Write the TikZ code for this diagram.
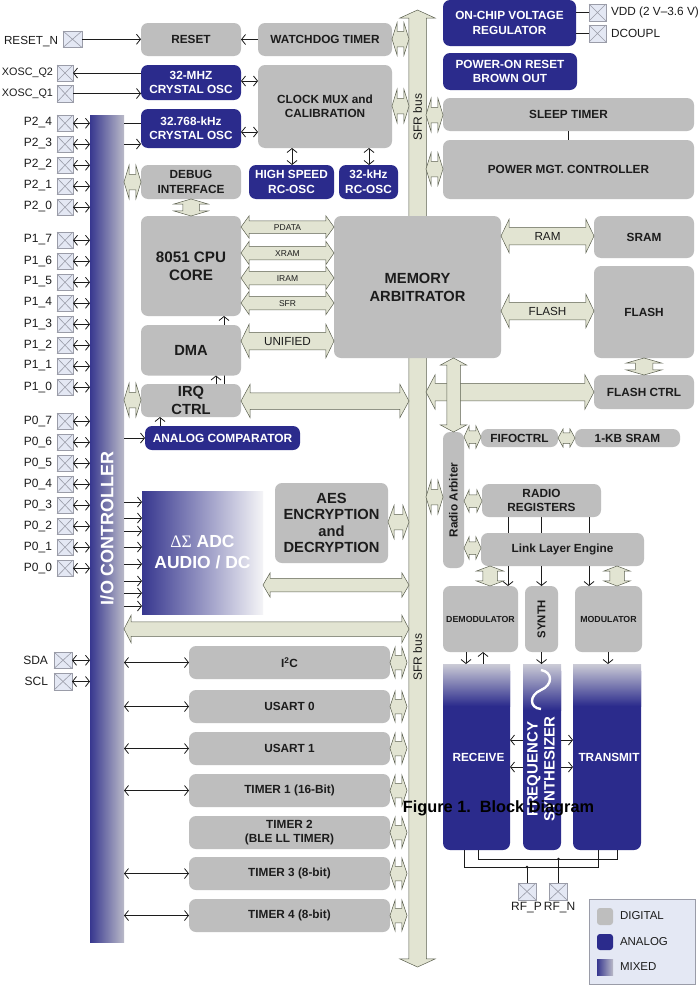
\documentclass[tikz,border=0pt]{standalone}
\usepackage{fontspec}
\setmainfont{Liberation Sans}
\newfontfamily\greekserif{Liberation Serif}
\usetikzlibrary{arrows.meta,shapes.arrows,calc}
\definecolor{digi}{HTML}{BEBEBE}
\definecolor{navy}{HTML}{2B2B8C}
\definecolor{busfill}{HTML}{E2E4D2}
\definecolor{busline}{HTML}{5C6050}
\definecolor{padfill}{HTML}{E4E8F4}
\definecolor{padline}{HTML}{9A9CA8}
\definecolor{ink}{HTML}{1C1C1C}
\definecolor{mixl}{HTML}{37378F}
\definecolor{mixr}{HTML}{BABAC8}
\tikzset{
  x=1pt,y=-1pt,
  >={Straight Barb[length=4pt,width=10pt]},
  base/.style={inner sep=0pt,outer sep=0pt,align=center,text=ink},
  fblk/.style={font=\fontsize{11.8}{14.5}\selectfont\bfseries},
  fbig/.style={font=\fontsize{14.7}{18}\selectfont\bfseries},
  dig/.style={base,fill=digi,rounded corners=7pt,fblk},
  ana/.style={base,fill=navy,rounded corners=7pt,fblk,text=white},
  wire/.style={draw=ink,line width=.8pt},
  bus/.style={inner sep=0pt,outer sep=0pt,text=ink,fill=busfill,draw=busline,line width=.5pt,
    double arrow head indent=0pt,font=\fontsize{11.7}{13}\selectfont},
  buss/.style={font=\fontsize{8.5}{10}\selectfont},
  padbox/.style={base,fill=padfill,draw=padline,line width=.7pt},
  lab/.style={base,font=\fontsize{12}{14}\selectfont},
}
\newcommand\blk[7][]{%
  \node[#2,#1,minimum width={(#5-#3)*1pt},minimum height={(#6-#4)*1pt}] (#7) at ({(#3+#5)/2},{(#4+#6)/2})}
\newcommand\hbus[8][]{% opts, name,x0,x1,yc,H,B,L
  \pgfmathsetmacro\bTip{2*atan((#6/2)/#8)}%
  \pgfmathsetmacro\bExt{(#6-#7)/2}%
  \pgfmathsetmacro\bLong{#4-#3}%
  \pgfmathsetmacro\bUp{#7/2+4.2}%
  \pgfmathsetmacro\bDn{#7/2-4.2}%
  \node[bus,double arrow,minimum height=\bLong pt,minimum width=#6pt,text height=\bUp pt,text depth=\bDn pt,
    double arrow head extend=\bExt pt,double arrow tip angle=\bTip,#1] (#2) at ({(#3+#4)/2},#5)}
\newcommand\vbus[8][]{% opts, name,y0,y1,xc,H,B,L
  \pgfmathsetmacro\bTip{2*atan((#6/2)/#8)}%
  \pgfmathsetmacro\bExt{(#6-#7)/2}%
  \pgfmathsetmacro\bLong{#4-#3}%
  \pgfmathsetmacro\bHalf{#7/2}%
  \node[bus,double arrow,shape border rotate=90,inner xsep=\bHalf pt,minimum height=\bLong pt,minimum width=#6pt,
    double arrow head extend=\bExt pt,double arrow tip angle=\bTip,#1] (#2) at (#5,{(#3+#4)/2})}
\newcommand\padx[5]{% name x0 y0 x1 y1
  \node[padbox,minimum width={(#4-#2)*1pt},minimum height={(#5-#3)*1pt}] (#1) at ({(#2+#4)/2},{(#3+#5)/2}) {};
  \draw[padline,line width=.6pt] (#1.north west) -- (#1.south east) (#1.north east) -- (#1.south west);}
\newcommand\port[3]{% id, text, y0
  \padx{pad#1}{57}{#3}{73}{#3+16.5}
  \node[lab,anchor=east] (lab#1) at (52,#3+8) {#2};
  \draw[wire,<->] (pad#1.east) -- (pad#1.east -| io.west);}
\begin{document}
\begin{tikzpicture}
\useasboundingbox (0,0) rectangle (700,985);
\fill[white] (0,0) rectangle (700,985);

% SFR bus
\vbus{sfr}{10}{967}{417.5}{35}{17}{8}{};
\node[base,rotate=90,font=\fontsize{12}{14}\selectfont] (sfr1) at (417.5,117) {SFR bus};
\node[base,rotate=90,font=\fontsize{12}{14}\selectfont] (sfr2) at (417.5,657) {SFR bus};

% I/O controller
\node[base,left color=mixl,right color=mixr,minimum width=34pt,minimum height=827pt] (io) at (107,528.5) {};
\node[base,rotate=90,text=white,font=\fontsize{18}{20}\selectfont\bfseries] (iolab) at (107,528) {I/O CONTROLLER};

% Left column
\blk{dig}{141}{23}{241}{56}{reset} {RESET};
\blk{dig}{258}{23}{392}{56}{wdt} {WATCHDOG TIMER};
\blk{ana}{141}{65}{241}{100}{xo32} {32-MHZ\\CRYSTAL OSC};
\blk{ana}{141}{109}{241}{148}{xo768} {32.768-kHz\\CRYSTAL OSC};
\blk{dig}{258}{65}{392}{148}{clk} {CLOCK MUX and\\CALIBRATION};
\blk{dig}{141}{165}{241}{199}{dbg} {DEBUG\\INTERFACE};
\blk{ana}{249}{165}{334}{199}{hsrc} {HIGH SPEED\\RC-OSC};
\blk{ana}{339}{165}{398}{199}{lsrc} {32-kHz\\RC-OSC};
\blk[font=\fontsize{15.2}{18}\selectfont\bfseries]{dig}{141}{216}{241}{316}{cpu} {8051 CPU\\CORE};
\blk[fbig]{dig}{141}{384}{241}{417}{irq} {IRQ\\CTRL};
\draw[wire,->] (irq.north -| 224,0) -- (cpu.south -| 224,0);
\blk[fbig]{dig}{141}{325}{241}{375.5}{dma} {DMA};
\blk[font=\fontsize{11.9}{14}\selectfont\bfseries]{ana}{145}{426}{300}{450}{cmp} {ANALOG COMPARATOR};
\blk[font=\fontsize{14.7}{16.5}\selectfont\bfseries]{dig}{275}{483}{388}{563}{aes} {AES\\ENCRYPTION\\and\\DECRYPTION};
\node[base,left color=mixl,right color=white!85!mixr,minimum width=121pt,minimum height=123pt,text=white,
  font=\fontsize{17.5}{21}\selectfont\bfseries] (adc) at (202.5,552.5) {{\greekserif\mdseries ΔΣ} ADC\\AUDIO / DC};

\blk[fbig]{dig}{334}{216}{501}{358}{mem} {MEMORY\\ARBITRATOR};

% Lower peripherals
\blk{dig}{189}{646}{390}{679}{i2c} {I\textsuperscript{2}C};
\blk{dig}{189}{690}{390}{723}{u0} {USART 0};
\blk{dig}{189}{732}{390}{765}{u1} {USART 1};
\blk{dig}{189}{774}{390}{807}{t1} {TIMER 1 (16-Bit)};
\blk{dig}{189}{816}{390}{849}{t2} {TIMER 2\\(BLE LL TIMER)};
\blk{dig}{189}{857}{390}{890}{t3} {TIMER 3 (8-bit)};
\blk{dig}{189}{899}{390}{932}{t4} {TIMER 4 (8-bit)};

% Right column
\blk{ana}{443}{0}{576}{46}{vreg} {ON-CHIP VOLTAGE\\REGULATOR};
\blk{ana}{443}{53}{577}{90}{por} {POWER-ON RESET\\BROWN OUT};
\blk{dig}{443}{98}{694}{131}{sleep} {SLEEP TIMER};
\blk{dig}{443}{140}{694}{199}{pmc} {POWER MGT. CONTROLLER};
\blk{dig}{594}{216}{694}{258}{sram} {SRAM};
\blk{dig}{594}{266}{694}{358}{flash} {FLASH};
\blk{dig}{594}{375}{694}{409}{fctrl} {FLASH CTRL};
\blk{dig}{481}{429}{558}{447}{fifo} {FIFOCTRL};
\blk{dig}{575}{429}{680}{447}{kb} {1-KB SRAM};
\blk{dig}{482}{484}{601}{517}{regs} {RADIO\\REGISTERS};
\blk{dig}{481}{533}{644}{566}{link} {Link Layer Engine};
\blk{dig}{443}{586}{518}{652}{dem} {\fontsize{8.8}{10}\selectfont DEMODULATOR};
\blk{dig}{525}{586}{558}{652}{syn} {\fontsize{11.3}{13}\selectfont\rotatebox{90}{SYNTH}};
\blk{dig}{575}{586}{642}{652}{mod} {\fontsize{8.8}{10}\selectfont MODULATOR};
\blk{dig}{443}{432}{464}{568}{arb} {\rotatebox{90}{Radio Arbiter}};

% RF blocks
\blk{ana}{443}{664}{510}{850}{rx} {};
\shade[top color=white!25!mixr,bottom color=navy] (rx.north west) rectangle ($(rx.north east)+(0,42)$);
\node[base,text=white,fblk] (rxlab) at ($(rx.center)+(2,0)$) {RECEIVE};
\blk{ana}{523}{664}{561}{850}{fs} {};
\shade[top color=white!25!mixr,bottom color=navy] (fs.north west) rectangle ($(fs.north east)+(0,46)$);
\draw[white,line width=2.4pt] (541,670) .. controls (553,672) and (553,685) .. (541,690) .. controls (529,695) and (529,708) .. (541,709);
\node[base,rotate=90,text=white,font=\fontsize{15}{17}\selectfont\bfseries] (fslab) at (541,769) {FREQUENCY\\SYNTHESIZER};
\blk{ana}{573}{664}{641}{850}{tx} {};
\shade[top color=white!25!mixr,bottom color=navy] (tx.north west) rectangle ($(tx.north east)+(0,42)$);
\node[base,text=white,fblk] (txlab) at ($(tx.center)+(2,0)$) {TRANSMIT};

% Wide buses
\hbus[buss,text height=9pt,text depth=3pt]{bpd}{241}{334}{227}{22}{12}{8}{PDATA};
\hbus[buss,text height=9.5pt,text depth=3.5pt]{bxr}{241}{334}{253}{23}{13}{8}{XRAM};
\hbus[buss,text height=9.5pt,text depth=3.5pt]{bir}{241}{334}{278}{23}{13}{8}{IRAM};
\hbus[buss,text height=9.5pt,text depth=3.5pt]{bsf}{241}{334}{303}{23}{13}{8}{SFR};
\hbus{buni}{241}{334}{341}{33}{17}{8}{UNIFIED};
\hbus{bram}{501}{594}{236}{33}{17}{8}{RAM};
\hbus{bfl}{501}{594}{311}{33}{17}{8}{FLASH};
\hbus{birq}{241}{409}{401}{33}{16}{9}{};
\hbus{bfc}{426}{594}{392}{34}{17}{9}{};
\vbus{bra}{358}{432}{453.5}{26}{13}{7}{};
\hbus{badc}{263}{409}{585}{24}{13}{7}{};
\hbus{bio}{124}{409}{629}{27}{14}{7}{};

% Small bus stubs
\hbus{s1}{392}{409}{39}{32}{15}{5}{};
\hbus{s2}{392}{409}{106}{33}{15}{5}{};
\hbus{s3}{426}{443}{115}{33}{15}{5}{};
\hbus{s4}{426}{443}{169}{32}{15}{5}{};
\hbus{s5}{124}{141}{182}{33}{15}{5}{};
\vbus{s6}{199}{216}{191}{34}{16}{5}{};
\hbus{s7}{124}{141}{400}{33}{15}{5}{};
\hbus{s8}{388}{409}{522}{33}{15}{6}{};
\hbus{s9}{426}{443}{497}{33}{15}{5}{};
\hbus{s10}{464}{481}{437}{22}{12}{5}{};
\hbus{s11}{558}{575}{438}{18}{10}{5}{};
\hbus{s12}{464}{482}{501}{22}{12}{5}{};
\hbus{s13}{464}{481}{548}{22}{12}{5}{};
\vbus{s14}{358}{375}{644}{35}{17}{5}{};
\vbus{s15}{566}{586}{490}{27}{14}{5}{};
\vbus{s16}{566}{586}{617}{26}{14}{5}{};
\hbus{s17}{390}{407}{662.5}{30}{14}{5}{};
\hbus{s18}{390}{407}{706.5}{30}{14}{5}{};
\hbus{s19}{390}{407}{748.5}{30}{14}{5}{};
\hbus{s20}{390}{407}{790.5}{30}{14}{5}{};
\hbus{s21}{390}{407}{832.5}{30}{14}{5}{};
\hbus{s22}{390}{407}{873.5}{30}{14}{5}{};
\hbus{s23}{390}{407}{915.5}{30}{14}{5}{};

% Pads
\padx{padrst}{63}{31}{82}{47.5}
\node[lab,anchor=east,font=\fontsize{11.7}{14}\selectfont] (labrst) at (58,42) {RESET\_N};
\padx{padq2}{57}{65}{73}{81}
\node[lab,anchor=east,font=\fontsize{10.8}{14}\selectfont] (labq2) at (53,73) {XOSC\_Q2};
\padx{padq1}{57}{85}{73}{102}
\node[lab,anchor=east,font=\fontsize{10.8}{14}\selectfont] (labq1) at (53,93.5) {XOSC\_Q1};
\port{a}{P2\_4}{115}
\port{b}{P2\_3}{136}
\port{c}{P2\_2}{157}
\port{d}{P2\_1}{178}
\port{e}{P2\_0}{199}
\port{f}{P1\_7}{232}
\port{g}{P1\_6}{253}
\port{h}{P1\_5}{274}
\port{i}{P1\_4}{295}
\port{j}{P1\_3}{316}
\port{k}{P1\_2}{337}
\port{l}{P1\_1}{358}
\port{m}{P1\_0}{379}
\port{n}{P0\_7}{413}
\port{o}{P0\_6}{434}
\port{p}{P0\_5}{455}
\port{q}{P0\_4}{476}
\port{r}{P0\_3}{497}
\port{s}{P0\_2}{518}
\port{t}{P0\_1}{539}
\port{u}{P0\_0}{560}
\padx{padsda}{54}{652}{72}{668.5}
\node[lab,anchor=east] (labsda) at (48,660) {SDA};
\draw[wire,<->] (padsda.east) -- (padsda.east -| io.west);
\padx{padscl}{54}{673}{72}{690}
\node[lab,anchor=east] (labscl) at (48,681) {SCL};
\draw[wire,<->] (padscl.east) -- (padscl.east -| io.west);
\padx{padvdd}{589}{4}{606}{21}
\node[lab,anchor=west,font=\fontsize{11.8}{13}\selectfont] (labvdd) at (611,12) {VDD (2 V–3.6 V)};
\padx{paddc}{589}{25}{606}{42}
\node[lab,anchor=west,font=\fontsize{11.8}{13}\selectfont] (labdc) at (611,33) {DCOUPL};
\padx{padrfp}{518}{883}{536}{900}
\node[lab,anchor=north] (labrfp) at (526.5,902) {RF\_P};
\padx{padrfn}{549}{883}{567}{900}
\node[lab,anchor=north] (labrfn) at (559.5,902) {RF\_N};

% Thin connectors
\draw[wire,->] (padrst.east) -- (padrst.east -| reset.west);
\draw[wire,->] (wdt.west |- reset.east) -- (reset.east);
\draw[wire,->] (xo32.west |- 0,73) -- (padq2.east);
\draw[wire,->] (padq1.east) -- (padq1.east -| xo32.west);
\draw[wire] (io.east |- 0,123) -- (xo768.west |- 0,123);
\draw[wire,->] (io.east |- 0,144) -- (xo768.west |- 0,144);
\draw[wire,<->] (xo32.east |- 0,81) -- (clk.west |- 0,81);
\draw[wire,<->] (xo768.east |- 0,132) -- (clk.west |- 0,132);
\draw[wire,<->] (clk.south -| 292,0) -- (hsrc.north -| 292,0);
\draw[wire,<->] (clk.south -| 369,0) -- (lsrc.north -| 369,0);
\draw[wire,->] (irq.north -| 216,0) -- (dma.south -| 216,0);
\draw[wire,->] (cmp.north -| 160,0) -- (irq.south -| 160,0);
\draw[wire,->] (io.east |- cmp.west) -- (cmp.west);
\foreach \yy in {502,518,531,547,564,581,593,606} {\draw[wire,->] (io.east |- 0,\yy) -- (adc.west |- 0,\yy);}
\draw[wire,<->] (io.east |- i2c.west) -- (i2c.west);
\draw[wire,<->] (io.east |- u0.west) -- (u0.west);
\draw[wire,<->] (io.east |- u1.west) -- (u1.west);
\draw[wire,<->] (io.east |- t1.west) -- (t1.west);
\draw[wire,<->] (io.east |- t3.west) -- (t3.west);
\draw[wire,<->] (io.east |- t4.west) -- (t4.west);
\draw[wire] (vreg.east |- padvdd.west) -- (padvdd.west);
\draw[wire] (vreg.east |- paddc.west) -- (paddc.west);
\draw[wire] (sleep.south -| 568,0) -- (pmc.north -| 568,0);
\foreach \xx in {508,541.5,589} {
  \draw[wire] (regs.south -| \xx,0) -- (link.north -| \xx,0);
  \draw[wire,->] (link.south -| \xx,0) -- (dem.north -| \xx,0);}
\draw[wire,->] (dem.south -| 466,0) -- (rx.north -| 466,0);
\draw[wire,<-] (dem.south -| 483,0) -- (rx.north -| 483,0);
\draw[wire,->] (syn.south -| 541.5,0) -- (fs.north -| 541.5,0);
\draw[wire,->] (mod.south -| 608,0) -- (tx.north -| 608,0);
\foreach \yy in {740,767} {
  \draw[wire,->] (fs.west |- 0,\yy) -- (rx.east |- 0,\yy);
  \draw[wire,->] (fs.east |- 0,\yy) -- (tx.west |- 0,\yy);}

% RF wiring
\coordinate (jp) at (527,867);
\coordinate (jn) at (558.5,859);
\draw[wire] (rx.south -| 464,0) -- (464,867) -- (598,867) -- (tx.south -| 598,0);
\draw[wire] (rx.south -| 478,0) -- (478,859) -- (617,859) -- (tx.south -| 617,0);
\draw[wire] (jp) -- (padrfp.north -| jp);
\draw[wire] (jn) -- (padrfn.north -| jn);
\fill[ink] (jp) circle (1.3pt) (jn) circle (1.3pt);

% Legend
\node[base,fill=padfill,draw=padline,line width=.7pt,minimum width=106pt,minimum height=85pt] (legend) at (642,941.5) {};
\blk[rounded corners=3pt]{dig}{597}{908}{613}{925}{ldig} {};
\blk[rounded corners=3pt]{ana}{597}{934}{613}{950}{lana} {};
\node[base,left color=mixl,right color=mixr,minimum width=16pt,minimum height=16pt] (lmix) at (605,967) {};
\node[lab,anchor=west,font=\fontsize{11.5}{13}\selectfont] (tdig) at (620,916) {DIGITAL};
\node[lab,anchor=west,font=\fontsize{11.5}{13}\selectfont] (tana) at (620,941.5) {ANALOG};
\node[lab,anchor=west,font=\fontsize{11.5}{13}\selectfont] (tmix) at (620,966.5) {MIXED};

% Caption
\node[base,text=black,font=\fontsize{16.3}{19}\selectfont\bfseries] (fig) at (498.5,808) {Figure 1.\ \ Block Diagram};
\end{tikzpicture}
\end{document}
